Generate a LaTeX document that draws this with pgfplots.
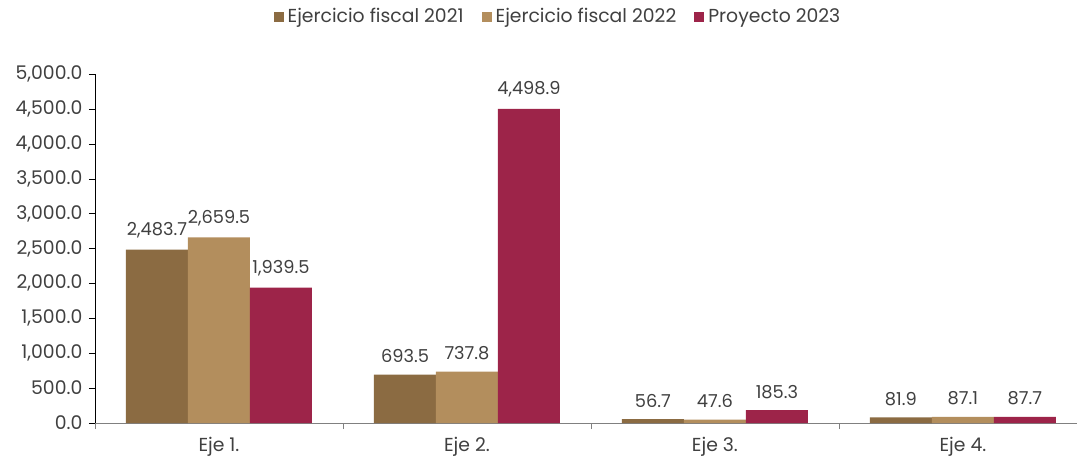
\documentclass[border=0pt]{standalone}
\usepackage{pgfplots}
\pgfplotsset{compat=1.18}
\usepackage{fontspec}
\setmainfont{Poppins}
\definecolor{cafe}{HTML}{8B6B42}
\definecolor{dorado}{HTML}{B38E5D}
\definecolor{vino}{HTML}{9D2449}
\definecolor{texto}{HTML}{404040}
\newcommand{\chartfont}{\fontsize{9.4}{11}\selectfont}
\newcommand{\labelfont}{\fontsize{8.9}{11}\selectfont}
\begin{document}
\chartfont
\begin{tikzpicture}
\begin{axis}[
    at={(0,0)}, anchor=south west,
    scale only axis,
    width=491pt, height=174.5pt,
    xmin=-0.5, xmax=3.46,
    ymin=0, ymax=5000,
    ybar, bar width=0.25,
    axis x line=bottom, axis y line=left,
    x axis line style={-, draw=gray},
    y axis line style={-, draw=black},
    tick align=outside,
    major tick length=3pt,
    xtick={-0.5,0.5,1.5,2.5}, xticklabels={},
    x tick style={draw=gray},
    y tick style={draw=black},
    extra x ticks={0,1,2,3},
    extra x tick labels={Eje 1.,Eje 2.,Eje 3.,Eje 4.},
    extra x tick style={major tick length=0pt, tick label style={yshift=-4pt}},
    ytick={0,500,...,5000},
    yticklabel style={/pgf/number format/.cd, fixed, fixed zerofill, precision=1, 1000 sep={,}, assume math mode=true},
    /pgf/number format/assume math mode=true,
    tick label style={font=\chartfont, text=texto},
    nodes near coords,
    nodes near coords style={font=\labelfont, text=texto, yshift=2.5pt,
        /pgf/number format/.cd, fixed, fixed zerofill, precision=1, 1000 sep={,}, assume math mode=true},
    legend columns=3,
    legend style={at={(0.5,1)}, anchor=south, xshift=-13.5pt, yshift=20pt, draw=none,
        font=\chartfont, text=texto,
        /tikz/every even column/.append style={column sep=7pt}},
    legend image code/.code={\fill[#1] (0pt,-2.5pt) rectangle (5pt,2.5pt);},
    clip=false,
]
\addplot[fill=cafe, draw=none, bar shift=-0.25] coordinates {(0,2483.7) (1,693.5) (2,56.7) (3,81.9)};
\addlegendentry{Ejercicio fiscal 2021}
\addplot[fill=dorado, draw=none, bar shift=0] coordinates {(0,2659.5) (1,737.8) (2,47.6) (3,87.1)};
\addlegendentry{Ejercicio fiscal 2022}
\addplot[fill=vino, draw=none, bar shift=0.25] coordinates {(0,1939.5) (1,4498.9) (2,185.3) (3,87.7)};
\addlegendentry{Proyecto 2023}
\end{axis}
\pgfresetboundingbox
\path (-47.5pt,-19.5pt) rectangle (491.5pt,211.5pt);
\end{tikzpicture}
\end{document}
